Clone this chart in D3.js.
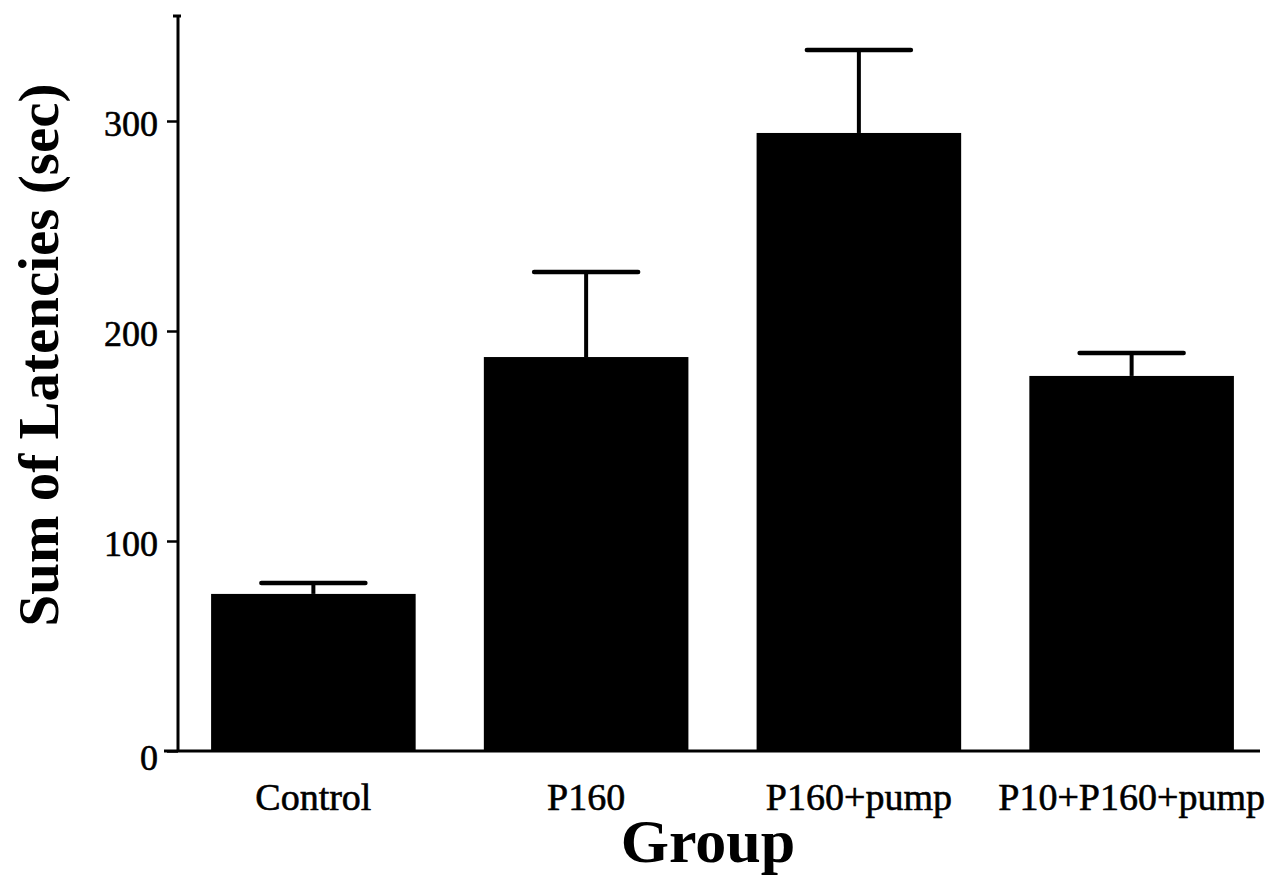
<!DOCTYPE html>
<html>
<head>
<meta charset="utf-8">
<script src="https://d3js.org/d3.v7.min.js"></script>
<style>
  html, body { margin: 0; padding: 0; background: #fff; }
  svg { display: block; }
  text { font-family: "Liberation Serif", "Times New Roman", serif; fill: #000; }
</style>
</head>
<body>
<script>
// Data
const categories = ["Control", "P160", "P160+pump", "P10+P160+pump"];
const means = [74.8, 187.6, 294.3, 178.6];
const errorTops = [80.0, 228.1, 333.8, 189.5];
const yTicks = [0, 100, 200, 300];
const yMax = 350;
const xLabel = "Group";
const yLabel = "Sum of Latencies (sec)";

const W = 1282, H = 892;
const svg = d3.select("body").append("svg").attr("width", W).attr("height", H);

const y = d3.scaleLinear().domain([0, yMax]).range([751, 16]);
const x = d3.scaleBand().domain(categories).range([177, 1268])
  .paddingInner(0.25).paddingOuter(0.125);

const axisX = 178;

// Bars
svg.append("g").selectAll("rect").data(categories).join("rect")
  .attr("x", d => x(d))
  .attr("y", (d, i) => y(means[i]))
  .attr("width", x.bandwidth())
  .attr("height", (d, i) => y(0) - y(means[i]))
  .attr("fill", "#000");

// Error bars
const eb = svg.append("g").attr("stroke", "#000");
eb.selectAll("line.v").data(categories).join("line")
  .attr("class", "v")
  .attr("x1", d => x(d) + x.bandwidth() / 2)
  .attr("x2", d => x(d) + x.bandwidth() / 2)
  .attr("y1", (d, i) => y(means[i]))
  .attr("y2", (d, i) => y(errorTops[i]))
  .attr("stroke-width", 4);
eb.selectAll("line.c").data(categories).join("line")
  .attr("class", "c")
  .attr("x1", d => x(d) + x.bandwidth() / 2 - 52)
  .attr("x2", d => x(d) + x.bandwidth() / 2 + 52)
  .attr("y1", (d, i) => y(errorTops[i]))
  .attr("y2", (d, i) => y(errorTops[i]))
  .attr("stroke-width", 4.5)
  .attr("stroke-linecap", "round");

// Y axis
const yAxis = d3.axisLeft(y).tickValues(yTicks).tickSize(11).tickPadding(12)
  .tickFormat(d3.format("d"));
const gy = svg.append("g").attr("transform", `translate(${axisX},0)`).call(yAxis);
gy.select(".domain").remove();
gy.selectAll(".tick line").attr("stroke", "#000").attr("stroke-width", 2.5);
gy.selectAll(".tick text")
  .attr("font-family", "Liberation Serif, serif")
  .attr("font-size", 36)
  .attr("stroke", "#000").attr("stroke-width", 0.6)
  .attr("dy", (d) => d === 0 ? "0.5em" : "0.4em")
  .attr("x", -20);
svg.append("line")
  .attr("x1", axisX).attr("x2", axisX)
  .attr("y1", y(yMax)).attr("y2", y(0))
  .attr("stroke", "#000").attr("stroke-width", 3);
svg.append("line")
  .attr("x1", axisX - 5).attr("x2", axisX + 3)
  .attr("y1", y(yMax)).attr("y2", y(yMax))
  .attr("stroke", "#000").attr("stroke-width", 3);

// X axis baseline
svg.append("line")
  .attr("x1", 164).attr("x2", 1260)
  .attr("y1", y(0)).attr("y2", y(0))
  .attr("stroke", "#000").attr("stroke-width", 3);

// Category labels
svg.append("g").selectAll("text").data(categories).join("text")
  .attr("x", d => x(d) + x.bandwidth() / 2)
  .attr("y", 810)
  .attr("text-anchor", "middle")
  .attr("font-size", 38)
  .attr("stroke", "#000").attr("stroke-width", 0.6)
  .text(d => d);

// Axis titles
svg.append("text")
  .attr("x", 708).attr("y", 862)
  .attr("text-anchor", "middle")
  .attr("font-size", 62)
  .attr("font-weight", "bold")
  .text(xLabel);

svg.append("text")
  .attr("transform", "translate(58,355) rotate(-90)")
  .attr("text-anchor", "middle")
  .attr("font-size", 57)
  .attr("font-weight", "bold")
  .text(yLabel);
</script>
</body>
</html>
